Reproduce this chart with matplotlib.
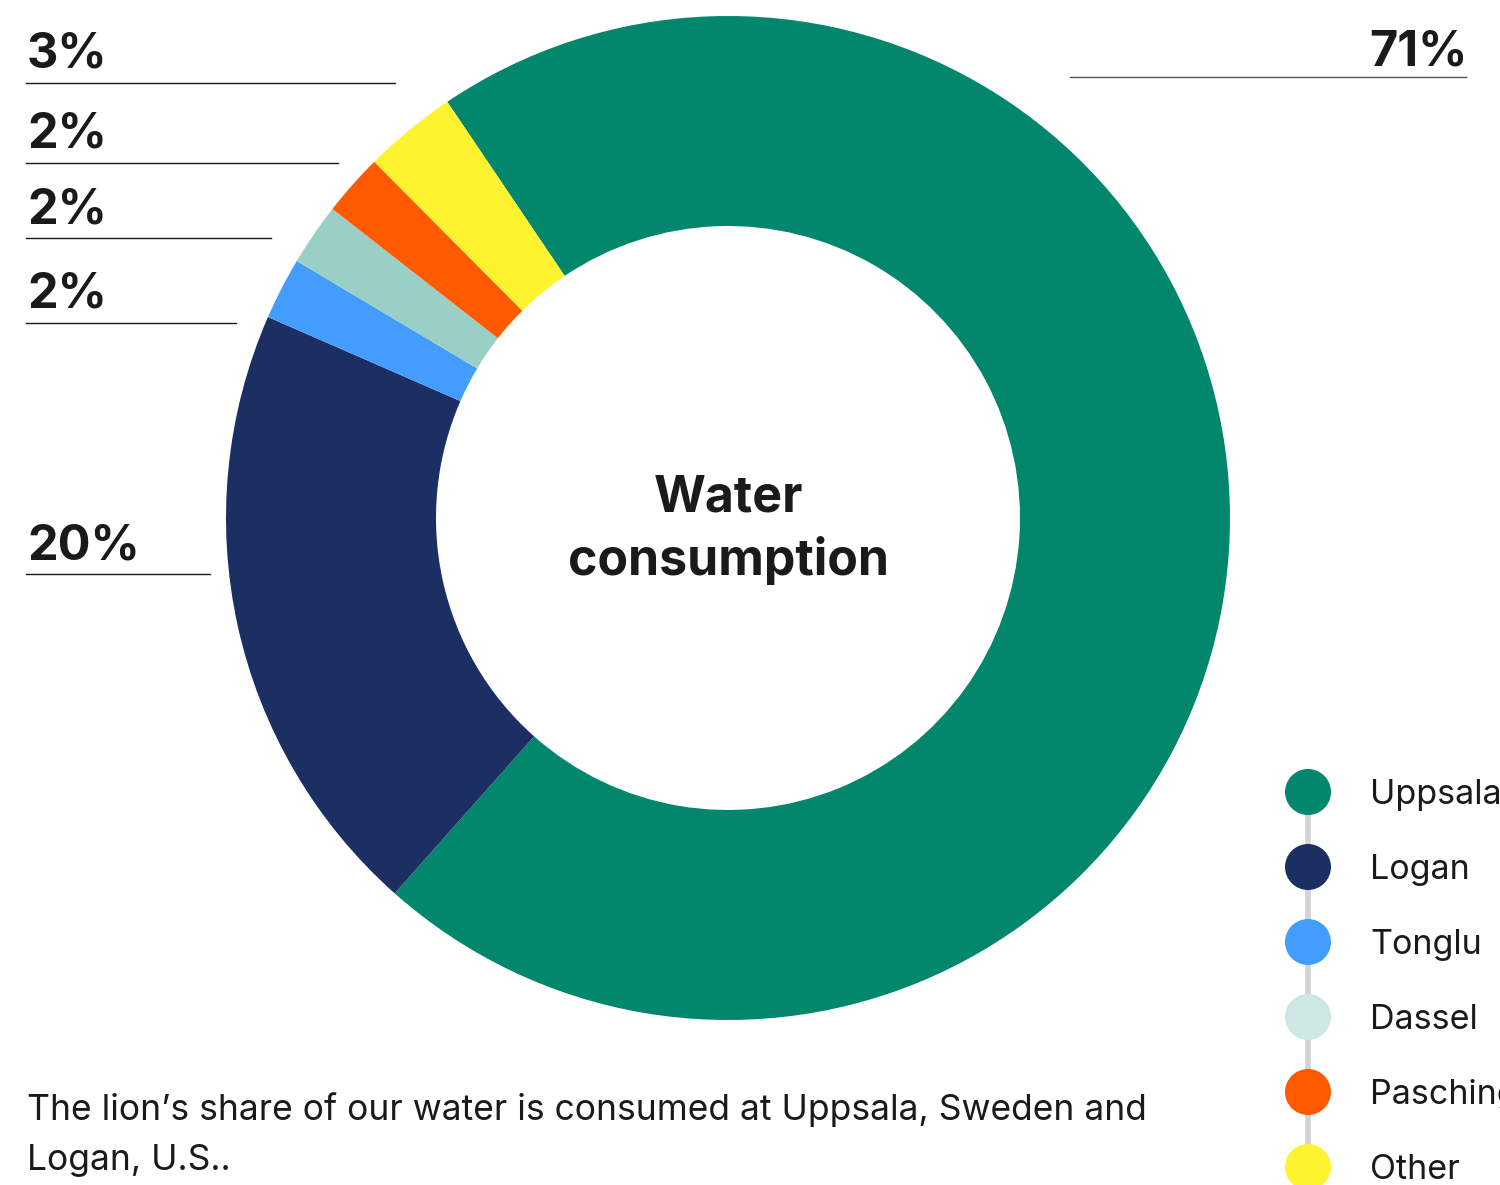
import matplotlib
matplotlib.use("Agg")
import matplotlib.pyplot as plt
from matplotlib.patches import Circle

# data
sites = ["Uppsala", "Logan", "Tonglu", "Dassel", "Pasching", "Other"]
shares = [71, 20, 2, 2, 2, 3]
slice_colors = ["#02876c", "#1c2f63", "#439dff", "#9acfc5", "#ff5a00", "#fff22e"]
legend_colors = ["#02876c", "#1c2f63", "#439dff", "#cde7e2", "#ff5a00", "#fff22e"]
caption_lines = ["The lion\u2019s share of our water is consumed at Uppsala, Sweden and",
                 "Logan, U.S.."]

W, H = 1500, 1185
plt.rcParams["font.family"] = ["Inter", "DejaVu Sans"]
ink = "#1a1a1a"

fig = plt.figure(figsize=(W / 100, H / 100), dpi=100)
ax = fig.add_axes([0, 0, 1, 1])


def Y(y):
    # image coords (top down) -> axes coords
    return H - y


ax.pie(shares, colors=slice_colors, startangle=124, counterclock=False,
       radius=502, center=(728, Y(518)),
       wedgeprops=dict(width=210, edgecolor="none", linewidth=0))
ax.set_xlim(0, W)
ax.set_ylim(0, H)
ax.set_aspect("equal")
ax.axis("off")

# centre title
ax.text(729, Y(512), "Water", ha="center", va="baseline", fontsize=36,
        fontweight="bold", color=ink)
ax.text(729, Y(575), "consumption", ha="center", va="baseline", fontsize=36,
        fontweight="bold", color=ink)

# percentage labels with underlines
left_labels = [("Other", 68, 83, 395), ("Pasching", 148, 163, 338),
               ("Dassel", 223, 238, 271), ("Tonglu", 308, 323, 236),
               ("Logan", 560, 574, 210)]
for name, ty, ly, x_end in left_labels:
    val = shares[sites.index(name)]
    ax.text(27, Y(ty), f"{val}%", ha="left", va="baseline", fontsize=35,
            fontweight="bold", color=ink)
    ax.plot([26, x_end], [Y(ly), Y(ly)], color=ink, lw=1)

ax.text(1468, Y(65), f"{shares[0]}%", ha="right", va="baseline", fontsize=35,
        fontweight="bold", color=ink)
ax.plot([1070, 1466], [Y(77), Y(77)], color="#555555", lw=1)

# legend: circles on a grey rail
leg_y = [792 + 75 * i for i in range(len(sites))]
ax.plot([1308, 1308], [Y(leg_y[0]), Y(leg_y[-1])], color="#d3d3d3", lw=4,
        zorder=1, solid_capstyle="butt")
for name, col, y in zip(sites, legend_colors, leg_y):
    ax.add_patch(Circle((1308, Y(y)), 23, color=col, zorder=2, lw=0))
    ax.text(1370, Y(y + 3), name, ha="left", va="center", fontsize=24.5,
            color=ink, clip_on=False)

for i, line in enumerate(caption_lines):
    ax.text(27, Y(1120 + 50 * i), line, ha="left", va="baseline", fontsize=25.5,
            color=ink)

fig.savefig("out.png", dpi=100)
